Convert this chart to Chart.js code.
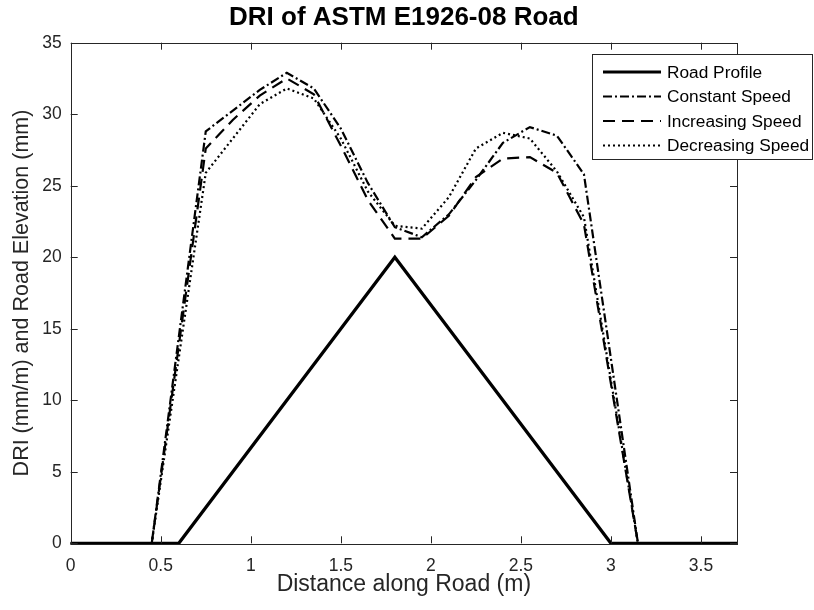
<!DOCTYPE html>
<html>
<head>
<meta charset="utf-8">
<script src="https://cdn.jsdelivr.net/npm/chart.js@4.4.1/dist/chart.umd.min.js"></script>
<style>
  html, body { margin: 0; padding: 0; background: #fff; }
  #wrap { width: 814px; height: 610px; }
</style>
</head>
<body>
<div id="wrap"><canvas id="c" width="814" height="610"></canvas></div>
<script>
// road profile (m, mm)
const roadX = [0, 0.6, 1.8, 3.0, 3.7];
const roadY = [0, 0, 20, 0, 0];

// DRI curves, vertices
const constX = [0, 0.45, 0.75, 1.05, 1.2, 1.35, 1.5, 1.65, 1.8, 1.95, 2.1, 2.25, 2.4, 2.55, 2.7, 2.85, 3.15, 3.7];
const constY = [0, 0, 28.8, 31.7, 32.9, 31.8, 29.0, 25.2, 22.1, 21.4, 23.0, 25.4, 28.0, 29.1, 28.5, 25.8, 0, 0];

const incX = [0, 0.45, 0.75, 0.9, 1.05, 1.2, 1.35, 1.5, 1.65, 1.8, 1.95, 2.1, 2.25, 2.4, 2.55, 2.7, 2.85, 3.15, 3.7];
const incY = [0, 0, 27.6, 29.6, 31.3, 32.5, 31.4, 27.8, 24.0, 21.3, 21.3, 22.9, 25.6, 26.9, 27.0, 25.9, 22.3, 0, 0];

const decX = [0, 0.45, 0.75, 1.05, 1.2, 1.35, 1.5, 1.65, 1.8, 1.95, 2.1, 2.25, 2.4, 2.55, 2.7, 2.85, 3.15, 3.7];
const decY = [0, 0, 25.9, 30.7, 31.8, 31.1, 28.3, 24.6, 22.2, 22.0, 24.2, 27.6, 28.7, 28.3, 26.0, 22.8, 0, 0];

const xTicksStep = 0.5;
const yTicksStep = 5;

const ink = '#262626';
const fontFamily = '"Liberation Sans", Arial, Helvetica, sans-serif';

function pts(xs, ys) {
    return xs.map((x, i) => ({ x: x, y: ys[i] }));
}

// inward ticks and axes box, matlab style
const boxTicks = {
    id: 'boxTicks',
    afterDatasetsDraw(chart) {
        const ctx = chart.ctx;
        const a = chart.chartArea;
        const len = 7;
        ctx.save();
        ctx.strokeStyle = ink;
        ctx.lineWidth = 1;
        ctx.beginPath();
        chart.scales.x.ticks.forEach(t => {
            const px = Math.round(chart.scales.x.getPixelForValue(t.value)) + 0.5;
            ctx.moveTo(px, a.bottom); ctx.lineTo(px, a.bottom - len);
            ctx.moveTo(px, a.top); ctx.lineTo(px, a.top + len);
        });
        chart.scales.y.ticks.forEach(t => {
            const py = Math.round(chart.scales.y.getPixelForValue(t.value)) + 0.5;
            ctx.moveTo(a.left, py); ctx.lineTo(a.left + len, py);
            ctx.moveTo(a.right, py); ctx.lineTo(a.right - len, py);
        });
        ctx.stroke();
        ctx.strokeRect(Math.round(a.left) + 0.5, Math.round(a.top) + 0.5,
            Math.round(a.right - a.left), Math.round(a.bottom - a.top));
        ctx.restore();
    }
};

// title centred over the axes, legend box sticks out past them on the right
const boxLegend = {
    id: 'boxLegend',
    afterDraw(chart) {
        const ctx = chart.ctx;
        const a = chart.chartArea;
        ctx.save();
        ctx.fillStyle = '#000';
        ctx.font = 'bold 26px ' + fontFamily;
        ctx.textAlign = 'center';
        ctx.textBaseline = 'middle';
        ctx.fillText('DRI of ASTM E1926-08 Road', (a.left + a.right) / 2, 18);

        const x0 = 592, y0 = 54, w = 220, h = 105;
        ctx.fillStyle = '#fff';
        ctx.fillRect(x0, y0, w, h);
        ctx.strokeStyle = ink;
        ctx.lineWidth = 1;
        ctx.strokeRect(x0 + 0.5, y0 + 0.5, w, h);
        ctx.font = '17.3px ' + fontFamily;
        ctx.textAlign = 'left';
        chart.data.datasets.forEach((ds, i) => {
            const y = y0 + 18 + i * 24.5;
            ctx.beginPath();
            ctx.strokeStyle = '#000';
            ctx.lineWidth = ds.borderWidth;
            ctx.setLineDash(ds.borderDash || []);
            ctx.moveTo(603, y);
            ctx.lineTo(661, y);
            ctx.stroke();
            ctx.setLineDash([]);
            ctx.fillStyle = '#000';
            ctx.fillText(ds.label, 667, y + 1);
        });
        ctx.restore();
    }
};

const fmt = v => String(+v.toFixed(2));

const config = {
    type: 'line',
    data: {
        datasets: [
            { label: 'Road Profile', data: pts(roadX, roadY), borderColor: '#000', borderWidth: 3.2, borderDash: [] },
            { label: 'Constant Speed', data: pts(constX, constY), borderColor: '#000', borderWidth: 2.2, borderDash: [9, 3, 2, 3] },
            { label: 'Increasing Speed', data: pts(incX, incY), borderColor: '#000', borderWidth: 2.2, borderDash: [12, 7] },
            { label: 'Decreasing Speed', data: pts(decX, decY), borderColor: '#000', borderWidth: 2.2, borderDash: [2, 3] }
        ]
    },
    options: {
        responsive: false,
        animation: false,
        devicePixelRatio: 1,
        layout: { padding: { left: 0, right: 77, top: 42.7, bottom: 0 } },
        elements: {
            point: { radius: 0 },
            line: { tension: 0, fill: false }
        },
        datasets: { line: { clip: false } },
        scales: {
            x: {
                type: 'linear',
                min: 0,
                max: 3.7,
                grid: { display: false, drawTicks: false },
                border: { display: false },
                ticks: { stepSize: xTicksStep, includeBounds: false, color: ink, padding: 12, maxRotation: 0,
                    callback: fmt, font: { family: fontFamily, size: 17.5 } },
                title: { display: true, text: 'Distance along Road (m)', color: ink,
                    font: { family: fontFamily, size: 23 }, padding: { top: 0, bottom: 12 } },
                afterFit: s => { s.height = 66.7; }
            },
            y: {
                type: 'linear',
                min: 0,
                max: 35,
                grid: { display: false, drawTicks: false },
                border: { display: false },
                ticks: { stepSize: yTicksStep, includeBounds: false, color: ink, padding: 9,
                    callback: fmt, font: { family: fontFamily, size: 17.5 } },
                title: { display: true, text: 'DRI (mm/m) and Road Elevation (mm)', color: ink,
                    font: { family: fontFamily, size: 21.5 }, padding: { top: 9.5, bottom: 0 } },
                afterFit: s => { s.width = 70.7; }
            }
        },
        plugins: {
            legend: { display: false },
            tooltip: { enabled: false },
            title: { display: false }
        }
    },
    plugins: [boxTicks, boxLegend]
};

new Chart(document.getElementById('c'), config);
</script>
</body>
</html>
